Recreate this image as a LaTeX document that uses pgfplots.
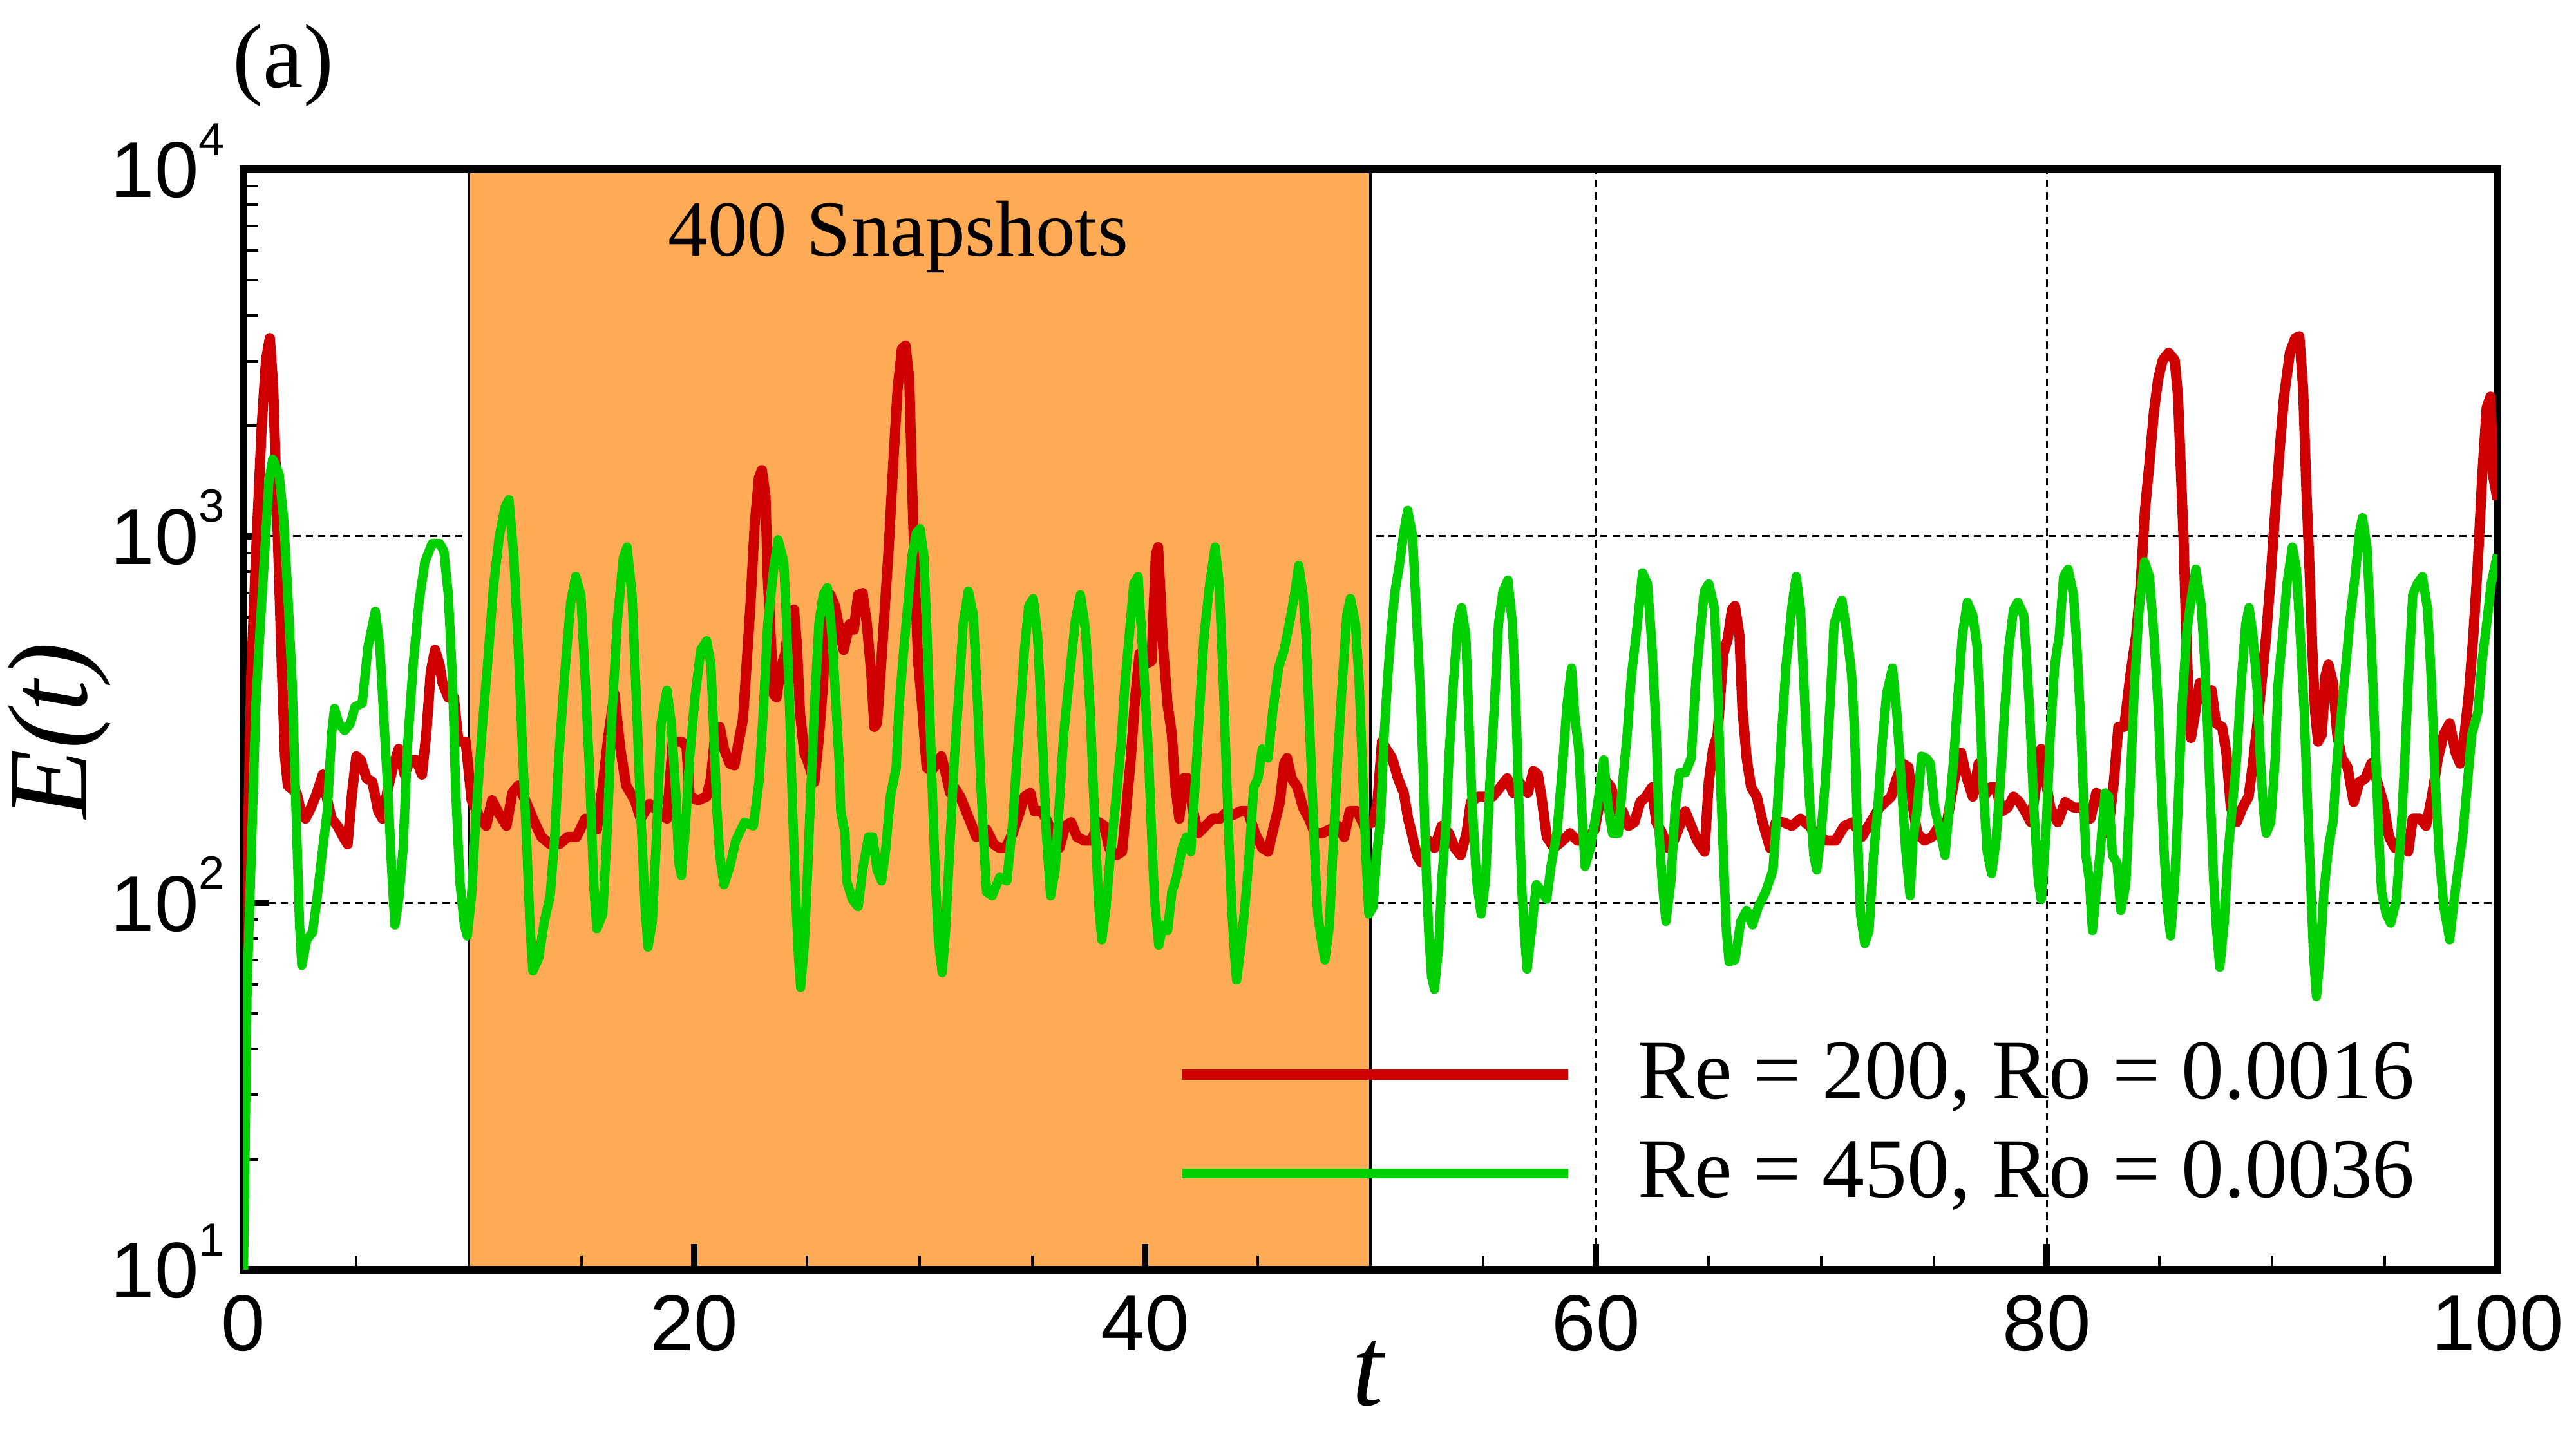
\documentclass[border=0pt]{standalone}
\usepackage{fontspec}
\setmainfont{Liberation Serif}
\setsansfont{Liberation Sans}
\usepackage{pgfplots}
\usepackage{pgfplotstable}
\pgfplotsset{compat=1.18}

\definecolor{snapfill}{RGB}{255,170,85}
\definecolor{curvered}{RGB}{208,0,0}
\definecolor{curvegreen}{RGB}{0,208,0}

% power-of-ten tick label set in the sans text font
\newcommand{\tenpow}[1]{10\raisebox{7.5pt}{\fontsize{8.2}{9}\selectfont #1}}

% grid below the shaded band, ticks and axis lines above it
\pgfplotsset{
  layers/band layers/.define layer set={
    axis background,axis grid,pre main,axis ticks,axis lines,main,axis tick labels,axis descriptions,axis foreground
  }{
    grid style={/pgfplots/on layer=axis grid},
    tick style={/pgfplots/on layer=axis ticks},
    axis line style={/pgfplots/on layer=axis lines},
    label style={/pgfplots/on layer=axis descriptions},
    legend style={/pgfplots/on layer=axis descriptions},
    title style={/pgfplots/on layer=axis descriptions},
    ticklabel style={/pgfplots/on layer=axis tick labels},
  },
}

% columns: time t, log10 of the energy E(t)
\pgfplotstableread[row sep=\\]{
t lg \\
0.00 1.20 \\ 0.06 1.60 \\ 0.15 2.00 \\ 0.29 2.45 \\ 0.35 2.63 \\ 0.55 2.94 \\ 0.81 3.30 \\ 1.00 3.48 \\ 1.17 3.54 \\
1.32 3.41 \\ 1.45 3.15 \\ 1.58 2.89 \\ 1.71 2.63 \\ 1.84 2.40 \\ 1.97 2.32 \\ 2.36 2.30 \\ 2.55 2.25 \\ 2.75 2.23 \\
3.00 2.26 \\ 3.26 2.30 \\ 3.52 2.35 \\ 3.65 2.30 \\ 3.91 2.23 \\ 4.17 2.21 \\ 4.43 2.18 \\ 4.62 2.16 \\ 4.82 2.30 \\
5.01 2.40 \\ 5.20 2.39 \\ 5.46 2.34 \\ 5.72 2.33 \\ 5.98 2.25 \\ 6.17 2.23 \\ 6.37 2.30 \\ 6.63 2.37 \\ 6.89 2.42 \\
7.15 2.35 \\ 7.40 2.39 \\ 7.66 2.39 \\ 7.92 2.35 \\ 8.11 2.46 \\ 8.31 2.63 \\ 8.50 2.69 \\ 8.70 2.65 \\ 8.83 2.60 \\
9.09 2.56 \\ 9.34 2.56 \\ 9.54 2.44 \\ 9.86 2.44 \\ 10.12 2.28 \\ 10.51 2.23 \\ 10.77 2.21 \\ 11.03 2.28 \\ 11.28 2.25 \\
11.67 2.21 \\ 11.93 2.30 \\ 12.19 2.32 \\ 12.58 2.27 \\ 12.84 2.23 \\ 13.22 2.18 \\ 13.61 2.16 \\ 14.00 2.16 \\ 14.39 2.18 \\
14.78 2.18 \\ 15.17 2.23 \\ 15.68 2.20 \\ 15.94 2.32 \\ 16.20 2.46 \\ 16.46 2.57 \\ 16.72 2.42 \\ 16.98 2.32 \\ 17.36 2.28 \\
17.62 2.23 \\ 18.01 2.27 \\ 18.40 2.25 \\ 18.79 2.23 \\ 19.05 2.44 \\ 19.43 2.44 \\ 19.65 2.43 \\ 19.80 2.29 \\ 20.16 2.28 \\
20.55 2.29 \\ 20.74 2.34 \\ 20.93 2.46 \\ 21.13 2.48 \\ 21.32 2.42 \\ 21.58 2.38 \\ 21.78 2.375 \\ 21.97 2.44 \\ 22.16 2.50 \\
22.29 2.62 \\ 22.49 2.81 \\ 22.68 3.03 \\ 22.87 3.16 \\ 23.00 3.18 \\ 23.16 3.11 \\ 23.26 2.89 \\ 23.39 2.73 \\ 23.52 2.57 \\
23.65 2.56 \\ 23.84 2.64 \\ 24.04 2.68 \\ 24.23 2.79 \\ 24.43 2.80 \\ 24.56 2.70 \\ 24.69 2.52 \\ 24.88 2.41 \\ 25.07 2.38 \\
25.33 2.33 \\ 25.53 2.45 \\ 25.72 2.60 \\ 25.85 2.79 \\ 26.04 2.84 \\ 26.24 2.81 \\ 26.43 2.75 \\ 26.63 2.69 \\ 26.89 2.76 \\
27.08 2.745 \\ 27.27 2.84 \\ 27.47 2.845 \\ 27.66 2.76 \\ 27.86 2.62 \\ 27.99 2.48 \\ 28.11 2.49 \\ 28.24 2.60 \\ 28.44 2.79 \\
28.63 2.97 \\ 28.83 3.20 \\ 29.02 3.40 \\ 29.21 3.51 \\ 29.37 3.52 \\ 29.54 3.43 \\ 29.67 3.13 \\ 29.80 2.87 \\ 29.93 2.66 \\
30.12 2.53 \\ 30.31 2.37 \\ 30.51 2.36 \\ 30.77 2.38 \\ 30.96 2.40 \\ 31.15 2.355 \\ 31.35 2.30 \\ 31.54 2.315 \\ 31.80 2.29 \\
32.06 2.25 \\ 32.32 2.21 \\ 32.51 2.18 \\ 32.71 2.19 \\ 32.97 2.20 \\ 33.29 2.16 \\ 33.55 2.15 \\ 33.81 2.15 \\ 34.13 2.19 \\
34.45 2.25 \\ 34.65 2.29 \\ 34.91 2.30 \\ 35.10 2.25 \\ 35.42 2.25 \\ 35.68 2.22 \\ 35.94 2.18 \\ 36.20 2.15 \\ 36.46 2.21 \\
36.72 2.22 \\ 36.98 2.18 \\ 37.30 2.17 \\ 37.62 2.17 \\ 37.95 2.22 \\ 38.20 2.21 \\ 38.40 2.15 \\ 38.72 2.13 \\ 38.98 2.14 \\
39.17 2.26 \\ 39.37 2.395 \\ 39.56 2.56 \\ 39.76 2.68 \\ 40.00 2.65 \\ 40.29 2.66 \\ 40.48 2.95 \\ 40.58 2.97 \\ 40.80 2.70 \\
41.00 2.54 \\ 41.19 2.46 \\ 41.32 2.33 \\ 41.52 2.23 \\ 41.71 2.34 \\ 41.90 2.34 \\ 42.10 2.26 \\ 42.36 2.19 \\ 42.68 2.21 \\
43.00 2.23 \\ 43.33 2.23 \\ 43.65 2.25 \\ 43.91 2.24 \\ 44.23 2.25 \\ 44.56 2.25 \\ 44.88 2.19 \\ 45.20 2.15 \\ 45.46 2.14 \\
45.72 2.21 \\ 45.98 2.275 \\ 46.17 2.38 \\ 46.30 2.395 \\ 46.50 2.34 \\ 46.76 2.315 \\ 47.01 2.26 \\ 47.27 2.23 \\ 47.53 2.19 \\
47.86 2.19 \\ 48.18 2.20 \\ 48.57 2.21 \\ 48.83 2.18 \\ 49.08 2.25 \\ 49.41 2.25 \\ 49.73 2.21 \\ 50.12 2.22 \\ 50.31 2.275 \\
50.51 2.44 \\ 50.70 2.42 \\ 50.96 2.395 \\ 51.22 2.34 \\ 51.48 2.30 \\ 51.67 2.23 \\ 51.87 2.18 \\ 52.06 2.13 \\ 52.25 2.11 \\
52.58 2.17 \\ 52.84 2.15 \\ 53.16 2.21 \\ 53.48 2.19 \\ 53.74 2.15 \\ 54.00 2.13 \\ 54.26 2.19 \\ 54.45 2.275 \\ 54.78 2.29 \\
55.10 2.29 \\ 55.42 2.29 \\ 55.75 2.315 \\ 56.07 2.34 \\ 56.33 2.30 \\ 56.59 2.33 \\ 56.98 2.30 \\ 57.23 2.36 \\ 57.43 2.35 \\
57.62 2.275 \\ 57.82 2.18 \\ 58.14 2.15 \\ 58.53 2.17 \\ 58.85 2.19 \\ 59.18 2.17 \\ 59.56 2.17 \\ 59.95 2.20 \\ 60.29 2.315 \\
60.48 2.33 \\ 60.68 2.315 \\ 60.93 2.25 \\ 61.19 2.25 \\ 61.45 2.21 \\ 61.71 2.22 \\ 61.97 2.275 \\ 62.23 2.29 \\ 62.49 2.315 \\
62.68 2.22 \\ 62.94 2.19 \\ 63.20 2.15 \\ 63.46 2.17 \\ 63.72 2.21 \\ 63.97 2.25 \\ 64.23 2.21 \\ 64.49 2.17 \\ 64.82 2.14 \\
65.01 2.33 \\ 65.20 2.42 \\ 65.40 2.46 \\ 65.66 2.68 \\ 65.85 2.72 \\ 66.04 2.80 \\ 66.17 2.81 \\ 66.37 2.73 \\ 66.50 2.53 \\
66.69 2.395 \\ 66.89 2.315 \\ 67.14 2.29 \\ 67.40 2.22 \\ 67.73 2.15 \\ 67.98 2.22 \\ 68.31 2.22 \\ 68.70 2.21 \\ 69.08 2.23 \\
69.47 2.21 \\ 69.86 2.18 \\ 70.25 2.17 \\ 70.64 2.17 \\ 71.02 2.21 \\ 71.41 2.22 \\ 71.80 2.18 \\ 72.19 2.22 \\ 72.58 2.26 \\
72.84 2.275 \\ 73.10 2.29 \\ 73.35 2.34 \\ 73.61 2.38 \\ 73.87 2.37 \\ 74.07 2.26 \\ 74.26 2.19 \\ 74.58 2.17 \\ 74.91 2.18 \\
75.23 2.21 \\ 75.55 2.21 \\ 75.88 2.33 \\ 76.20 2.41 \\ 76.46 2.34 \\ 76.72 2.29 \\ 76.98 2.38 \\ 77.23 2.29 \\ 77.49 2.315 \\
77.75 2.315 \\ 78.01 2.25 \\ 78.27 2.26 \\ 78.53 2.29 \\ 78.79 2.275 \\ 79.04 2.25 \\ 79.30 2.22 \\ 79.56 2.33 \\ 79.76 2.42 \\
79.97 2.33 \\ 80.16 2.26 \\ 80.49 2.22 \\ 80.82 2.275 \\ 81.21 2.26 \\ 81.61 2.26 \\ 81.94 2.23 \\ 82.20 2.30 \\ 82.46 2.29 \\
82.72 2.19 \\ 82.98 2.33 \\ 83.18 2.48 \\ 83.44 2.48 \\ 83.71 2.62 \\ 83.97 2.73 \\ 84.17 2.87 \\ 84.36 3.07 \\ 84.56 3.20 \\
84.76 3.34 \\ 84.95 3.43 \\ 85.15 3.48 \\ 85.41 3.50 \\ 85.68 3.48 \\ 85.83 3.38 \\ 85.94 3.20 \\ 86.07 3.00 \\ 86.16 2.80 \\
86.27 2.60 \\ 86.40 2.45 \\ 86.59 2.52 \\ 86.79 2.60 \\ 87.05 2.57 \\ 87.32 2.58 \\ 87.51 2.49 \\ 87.78 2.48 \\ 87.97 2.41 \\
88.17 2.26 \\ 88.43 2.22 \\ 88.69 2.26 \\ 88.96 2.29 \\ 89.15 2.38 \\ 89.35 2.49 \\ 89.55 2.61 \\ 89.74 2.73 \\ 89.94 2.89 \\
90.14 3.07 \\ 90.33 3.23 \\ 90.53 3.38 \\ 90.79 3.50 \\ 91.03 3.54 \\ 91.21 3.545 \\ 91.38 3.40 \\ 91.52 3.13 \\ 91.65 2.93 \\
91.78 2.70 \\ 91.91 2.52 \\ 92.04 2.44 \\ 92.21 2.46 \\ 92.37 2.62 \\ 92.50 2.65 \\ 92.70 2.60 \\ 92.89 2.46 \\ 93.09 2.395 \\
93.35 2.37 \\ 93.62 2.275 \\ 93.88 2.33 \\ 94.14 2.34 \\ 94.40 2.38 \\ 94.67 2.33 \\ 94.93 2.275 \\ 95.19 2.18 \\ 95.45 2.15 \\
95.72 2.17 \\ 96.04 2.14 \\ 96.24 2.23 \\ 96.57 2.23 \\ 96.83 2.21 \\ 97.09 2.29 \\ 97.36 2.395 \\ 97.62 2.46 \\ 97.88 2.49 \\
98.14 2.41 \\ 98.34 2.38 \\ 98.54 2.46 \\ 98.73 2.57 \\ 98.93 2.73 \\ 99.13 2.93 \\ 99.32 3.16 \\ 99.52 3.35 \\ 99.69 3.38 \\
99.82 3.16 \\ 100.00 3.10 \\
}\lowRe

\pgfplotstableread[row sep=\\]{
t lg \\
0.00 1.00 \\ 0.09 1.41 \\ 0.16 1.76 \\ 0.29 2.02 \\ 0.42 2.28 \\ 0.55 2.54 \\ 0.74 2.75 \\ 0.93 2.94 \\ 1.13 3.15 \\
1.30 3.21 \\ 1.58 3.17 \\ 1.78 3.05 \\ 1.97 2.84 \\ 2.16 2.60 \\ 2.36 2.20 \\ 2.49 1.94 \\ 2.59 1.83 \\ 2.81 1.90 \\
3.07 1.92 \\ 3.26 2.01 \\ 3.52 2.15 \\ 3.72 2.25 \\ 3.91 2.46 \\ 4.04 2.53 \\ 4.23 2.49 \\ 4.49 2.47 \\ 4.75 2.49 \\
4.95 2.535 \\ 5.27 2.545 \\ 5.53 2.70 \\ 5.85 2.795 \\ 6.05 2.70 \\ 6.24 2.49 \\ 6.43 2.28 \\ 6.59 2.075 \\ 6.72 1.94 \\
6.89 2.01 \\ 7.08 2.145 \\ 7.27 2.42 \\ 7.53 2.65 \\ 7.79 2.82 \\ 8.05 2.93 \\ 8.37 2.98 \\ 8.70 2.98 \\ 8.89 2.96 \\
9.09 2.84 \\ 9.28 2.60 \\ 9.41 2.32 \\ 9.60 2.06 \\ 9.80 1.94 \\ 9.93 1.91 \\ 10.12 2.02 \\ 10.31 2.23 \\ 10.57 2.46 \\
10.83 2.65 \\ 11.09 2.86 \\ 11.35 3.00 \\ 11.61 3.08 \\ 11.78 3.10 \\ 12.00 2.94 \\ 12.19 2.70 \\ 12.38 2.42 \\ 12.58 2.145 \\
12.71 1.94 \\ 12.84 1.815 \\ 13.10 1.85 \\ 13.35 1.95 \\ 13.61 2.02 \\ 13.81 2.18 \\ 14.00 2.405 \\ 14.26 2.63 \\ 14.52 2.82 \\
14.74 2.89 \\ 14.97 2.84 \\ 15.17 2.60 \\ 15.36 2.35 \\ 15.55 2.04 \\ 15.68 1.93 \\ 15.94 1.97 \\ 16.14 2.20 \\ 16.33 2.49 \\
16.59 2.77 \\ 16.85 2.94 \\ 17.02 2.97 \\ 17.24 2.84 \\ 17.43 2.56 \\ 17.62 2.25 \\ 17.82 1.99 \\ 17.95 1.88 \\ 18.14 1.95 \\
18.34 2.20 \\ 18.53 2.49 \\ 18.79 2.58 \\ 18.98 2.49 \\ 19.18 2.30 \\ 19.31 2.11 \\ 19.43 2.075 \\ 19.60 2.20 \\ 19.80 2.40 \\
20.03 2.56 \\ 20.29 2.69 \\ 20.55 2.715 \\ 20.74 2.65 \\ 20.87 2.46 \\ 21.00 2.26 \\ 21.13 2.13 \\ 21.32 2.05 \\ 21.58 2.10 \\
21.84 2.17 \\ 22.23 2.22 \\ 22.62 2.21 \\ 22.87 2.33 \\ 23.07 2.53 \\ 23.26 2.76 \\ 23.52 2.91 \\ 23.72 2.99 \\ 23.97 2.93 \\
24.10 2.76 \\ 24.23 2.53 \\ 24.36 2.26 \\ 24.49 2.03 \\ 24.62 1.86 \\ 24.72 1.77 \\ 24.88 1.885 \\ 25.01 2.06 \\ 25.14 2.26 \\
25.33 2.53 \\ 25.53 2.76 \\ 25.72 2.84 \\ 25.91 2.86 \\ 26.11 2.73 \\ 26.30 2.53 \\ 26.43 2.38 \\ 26.50 2.25 \\ 26.69 2.19 \\
26.76 2.06 \\ 27.01 2.01 \\ 27.27 1.99 \\ 27.47 2.09 \\ 27.73 2.18 \\ 27.92 2.18 \\ 28.11 2.09 \\ 28.31 2.06 \\ 28.50 2.15 \\
28.70 2.29 \\ 28.96 2.37 \\ 29.08 2.53 \\ 29.28 2.68 \\ 29.47 2.81 \\ 29.67 2.95 \\ 29.86 3.01 \\ 30.02 3.02 \\ 30.18 2.95 \\
30.31 2.76 \\ 30.44 2.53 \\ 30.57 2.29 \\ 30.70 2.06 \\ 30.83 1.90 \\ 31.00 1.81 \\ 31.15 1.925 \\ 31.35 2.17 \\ 31.54 2.395 \\
31.74 2.57 \\ 31.93 2.76 \\ 32.16 2.85 \\ 32.38 2.785 \\ 32.58 2.53 \\ 32.71 2.33 \\ 32.84 2.17 \\ 32.97 2.03 \\ 33.22 2.02 \\
33.55 2.07 \\ 33.87 2.06 \\ 34.13 2.22 \\ 34.39 2.46 \\ 34.65 2.69 \\ 34.84 2.81 \\ 35.04 2.83 \\ 35.23 2.73 \\ 35.42 2.49 \\
35.62 2.19 \\ 35.81 2.02 \\ 36.01 2.09 \\ 36.20 2.275 \\ 36.39 2.46 \\ 36.65 2.62 \\ 36.91 2.77 \\ 37.13 2.84 \\ 37.36 2.745 \\
37.56 2.53 \\ 37.75 2.25 \\ 37.95 1.99 \\ 38.08 1.90 \\ 38.27 1.99 \\ 38.46 2.13 \\ 38.72 2.29 \\ 38.92 2.42 \\ 39.11 2.60 \\
39.30 2.73 \\ 39.50 2.87 \\ 39.69 2.89 \\ 39.96 2.62 \\ 40.16 2.395 \\ 40.29 2.19 \\ 40.42 2.01 \\ 40.61 1.885 \\ 40.80 1.94 \\
41.00 1.925 \\ 41.19 2.03 \\ 41.39 2.07 \\ 41.65 2.15 \\ 41.84 2.18 \\ 42.03 2.14 \\ 42.23 2.33 \\ 42.42 2.53 \\ 42.62 2.73 \\
42.87 2.87 \\ 43.11 2.97 \\ 43.29 2.87 \\ 43.46 2.62 \\ 43.59 2.395 \\ 43.72 2.17 \\ 43.85 1.98 \\ 43.97 1.86 \\ 44.06 1.79 \\
44.23 1.87 \\ 44.43 1.99 \\ 44.62 2.13 \\ 44.82 2.315 \\ 45.01 2.34 \\ 45.20 2.42 \\ 45.46 2.395 \\ 45.66 2.52 \\ 45.92 2.64 \\
46.17 2.69 \\ 46.43 2.77 \\ 46.63 2.84 \\ 46.82 2.92 \\ 47.01 2.84 \\ 47.14 2.73 \\ 47.27 2.53 \\ 47.40 2.33 \\ 47.53 2.13 \\
47.66 1.97 \\ 47.82 1.90 \\ 47.98 1.845 \\ 48.18 1.94 \\ 48.37 2.19 \\ 48.57 2.42 \\ 48.76 2.61 \\ 48.95 2.785 \\ 49.11 2.83 \\
49.34 2.76 \\ 49.50 2.60 \\ 49.67 2.33 \\ 49.80 2.13 \\ 49.93 1.97 \\ 50.12 1.99 \\ 50.27 2.13 \\ 50.44 2.22 \\ 50.61 2.46 \\
50.77 2.62 \\ 50.92 2.745 \\ 51.09 2.85 \\ 51.28 2.92 \\ 51.48 3.01 \\ 51.65 3.07 \\ 51.87 3.00 \\ 52.03 2.80 \\ 52.19 2.60 \\
52.32 2.395 \\ 52.45 2.13 \\ 52.58 1.925 \\ 52.71 1.80 \\ 52.84 1.765 \\ 53.03 1.885 \\ 53.16 2.06 \\ 53.35 2.21 \\ 53.48 2.395 \\
53.68 2.60 \\ 53.87 2.76 \\ 54.04 2.805 \\ 54.23 2.73 \\ 54.39 2.46 \\ 54.52 2.26 \\ 54.71 2.06 \\ 54.91 1.97 \\ 55.10 2.06 \\
55.30 2.33 \\ 55.49 2.53 \\ 55.68 2.76 \\ 55.88 2.85 \\ 56.10 2.88 \\ 56.30 2.76 \\ 56.46 2.53 \\ 56.59 2.26 \\ 56.72 2.03 \\
56.85 1.90 \\ 56.95 1.82 \\ 57.17 1.94 \\ 57.36 2.05 \\ 57.62 2.03 \\ 57.82 2.01 \\ 58.01 2.10 \\ 58.27 2.19 \\ 58.53 2.38 \\
58.72 2.54 \\ 58.92 2.64 \\ 59.08 2.50 \\ 59.24 2.42 \\ 59.37 2.26 \\ 59.52 2.10 \\ 59.76 2.15 \\ 60.03 2.25 \\ 60.22 2.33 \\
60.35 2.39 \\ 60.55 2.26 \\ 60.74 2.19 \\ 61.00 2.19 \\ 61.19 2.33 \\ 61.39 2.46 \\ 61.58 2.62 \\ 61.84 2.76 \\ 62.07 2.90 \\
62.29 2.87 \\ 62.49 2.70 \\ 62.68 2.46 \\ 62.81 2.19 \\ 62.94 2.06 \\ 63.11 1.95 \\ 63.33 2.06 \\ 63.52 2.26 \\ 63.72 2.355 \\
63.97 2.355 \\ 64.23 2.395 \\ 64.43 2.60 \\ 64.62 2.73 \\ 64.81 2.85 \\ 65.01 2.87 \\ 65.27 2.80 \\ 65.40 2.60 \\ 65.53 2.33 \\
65.66 2.13 \\ 65.79 1.925 \\ 65.91 1.84 \\ 66.17 1.845 \\ 66.43 1.95 \\ 66.69 1.98 \\ 66.95 1.94 \\ 67.21 1.99 \\ 67.53 2.03 \\
67.86 2.09 \\ 68.05 2.26 \\ 68.24 2.46 \\ 68.44 2.65 \\ 68.70 2.81 \\ 68.89 2.89 \\ 69.08 2.80 \\ 69.28 2.53 \\ 69.47 2.29 \\
69.67 2.13 \\ 69.80 2.09 \\ 69.99 2.19 \\ 70.18 2.33 \\ 70.38 2.53 \\ 70.57 2.76 \\ 70.77 2.80 \\ 70.92 2.825 \\ 71.15 2.73 \\
71.35 2.62 \\ 71.48 2.46 \\ 71.61 2.19 \\ 71.74 1.97 \\ 71.93 1.89 \\ 72.12 1.925 \\ 72.32 2.13 \\ 72.51 2.26 \\ 72.71 2.44 \\
72.90 2.57 \\ 73.16 2.64 \\ 73.35 2.52 \\ 73.55 2.33 \\ 73.74 2.15 \\ 73.94 2.02 \\ 74.07 2.17 \\ 74.26 2.26 \\ 74.45 2.40 \\
74.65 2.395 \\ 74.84 2.38 \\ 75.03 2.26 \\ 75.29 2.19 \\ 75.49 2.13 \\ 75.68 2.26 \\ 75.88 2.395 \\ 76.07 2.57 \\ 76.26 2.73 \\
76.48 2.82 \\ 76.72 2.785 \\ 76.91 2.70 \\ 77.04 2.53 \\ 77.17 2.33 \\ 77.36 2.14 \\ 77.56 2.08 \\ 77.75 2.17 \\ 77.95 2.33 \\
78.14 2.53 \\ 78.33 2.70 \\ 78.53 2.80 \\ 78.72 2.82 \\ 78.98 2.785 \\ 79.11 2.66 \\ 79.24 2.53 \\ 79.43 2.26 \\ 79.63 2.06 \\
79.76 2.01 \\ 79.97 2.19 \\ 80.16 2.46 \\ 80.36 2.65 \\ 80.56 2.73 \\ 80.75 2.89 \\ 80.95 2.91 \\ 81.19 2.84 \\ 81.34 2.70 \\
81.48 2.53 \\ 81.61 2.33 \\ 81.74 2.13 \\ 81.90 2.06 \\ 82.03 1.925 \\ 82.20 2.03 \\ 82.39 2.15 \\ 82.59 2.30 \\ 82.76 2.29 \\
82.92 2.13 \\ 83.12 2.11 \\ 83.29 1.98 \\ 83.51 2.05 \\ 83.71 2.33 \\ 83.90 2.60 \\ 84.10 2.80 \\ 84.34 2.93 \\ 84.56 2.89 \\
84.76 2.73 \\ 84.95 2.53 \\ 85.08 2.33 \\ 85.22 2.13 \\ 85.35 1.99 \\ 85.50 1.91 \\ 85.68 2.06 \\ 85.83 2.26 \\ 86.00 2.53 \\
86.20 2.73 \\ 86.40 2.825 \\ 86.62 2.91 \\ 86.86 2.81 \\ 87.01 2.66 \\ 87.15 2.46 \\ 87.28 2.26 \\ 87.41 2.06 \\ 87.54 1.925 \\
87.68 1.825 \\ 87.88 1.95 \\ 88.04 2.13 \\ 88.23 2.26 \\ 88.43 2.395 \\ 88.63 2.60 \\ 88.83 2.76 \\ 88.98 2.805 \\ 89.15 2.73 \\
89.35 2.57 \\ 89.48 2.395 \\ 89.61 2.26 \\ 89.74 2.19 \\ 89.94 2.22 \\ 90.14 2.395 \\ 90.27 2.60 \\ 90.47 2.73 \\ 90.66 2.87 \\
90.90 2.97 \\ 91.08 2.91 \\ 91.25 2.73 \\ 91.42 2.53 \\ 91.58 2.26 \\ 91.71 2.06 \\ 91.84 1.86 \\ 91.97 1.745 \\ 92.13 1.86 \\
92.30 2.03 \\ 92.50 2.15 \\ 92.70 2.22 \\ 92.89 2.395 \\ 93.09 2.53 \\ 93.29 2.66 \\ 93.48 2.785 \\ 93.68 2.89 \\ 93.88 3.01 \\
94.01 3.05 \\ 94.21 2.97 \\ 94.34 2.80 \\ 94.47 2.60 \\ 94.60 2.395 \\ 94.73 2.19 \\ 94.86 2.03 \\ 95.06 1.97 \\ 95.26 1.945 \\
95.52 2.01 \\ 95.72 2.19 \\ 95.89 2.395 \\ 96.04 2.60 \\ 96.24 2.84 \\ 96.44 2.87 \\ 96.67 2.89 \\ 96.90 2.80 \\ 97.07 2.60 \\
97.22 2.355 \\ 97.42 2.13 \\ 97.62 1.99 \\ 97.88 1.90 \\ 98.08 2.01 \\ 98.27 2.10 \\ 98.47 2.19 \\ 98.67 2.33 \\ 98.86 2.46 \\
99.13 2.52 \\ 99.32 2.66 \\ 99.52 2.76 \\ 99.72 2.87 \\ 100.00 2.95 \\
}\highRe

\begin{document}
\begin{tikzpicture}
\begin{axis}[
  set layers=band layers,
  scale only axis, width=14cm, height=6.836cm,
  xmin=0, xmax=100, ymin=10, ymax=10000, ymode=log,
  xtick={0,20,40,60,80,100}, xticklabels={0,20,40,60,80,100},
  minor x tick num=3,
  ytick={10,100,1000,10000},
  yticklabels={\tenpow{1},\tenpow{2},\tenpow{3},\tenpow{4}},
  minor ytick={20,30,40,50,60,70,80,90,200,300,400,500,600,700,800,900,2000,3000,4000,5000,6000,7000,8000,9000},
  tick pos=left, tick align=inside,
  major tick length=0.16cm, minor tick length=0.09cm,
  every major tick/.append style={line width=1.1pt,black},
  every minor tick/.append style={line width=0.45pt,black},
  axis line style={line width=1.4pt},
  grid=major,
  major grid style={black, line width=0.35pt, dash pattern=on 1.3pt off 0.9pt},
  xticklabel style={font=\sffamily\fontsize{14}{14}\selectfont, inner sep=0pt, anchor=north, yshift=-0.152cm},
  yticklabel style={font=\sffamily\fontsize{14}{14}\selectfont, inner sep=0pt, anchor=base east, xshift=-0.11cm, yshift=-5pt},
  xlabel={\textit{t}}, ylabel={\textit{E(t)}},
  xlabel style={font=\fontsize{20}{20}\selectfont, inner sep=0pt, at={(axis description cs:0.4993,-0.0948)}, anchor=center},
  ylabel style={font=\fontsize{20}{20}\selectfont, inner sep=0pt, at={(axis description cs:-0.0817,0.49)}, anchor=center},
  legend image code/.code={\path (0cm,-0.066cm); \draw[#1] (0cm,0cm) -- (2.40cm,0cm);},
  legend cell align=left,
  legend style={draw=none, fill=none, inner sep=0pt, outer sep=0pt,
    at={(axis description cs:0.9634,0.0581)}, anchor=south east,
    font=\fontsize{15}{15}\selectfont,
    nodes={inner sep=0pt},
    row sep=0.209cm,
    /tikz/every odd column/.append style={column sep=0.40cm}},
  line join=round,
]
% 400-snapshot window
\addplot[fill=snapfill, draw=none, on layer=pre main, forget plot]
  coordinates {(10,10) (10,10000) (50,10000) (50,10) (10,10)};
\addplot[black, line width=0.5pt, on layer=pre main, forget plot] coordinates {(10,10) (10,10000)};
\addplot[black, line width=0.5pt, on layer=pre main, forget plot] coordinates {(50,10) (50,10000)};

\addplot[curvered, line width=1.8pt] table[x=t, y expr={10^(\thisrow{lg})}] {\lowRe};
\addlegendentry{Re = 200, Ro = 0.0016}
\addplot[curvegreen, line width=1.65pt] table[x=t, y expr={10^(\thisrow{lg})}] {\highRe};
\addlegendentry{Re = 450, Ro = 0.0036}

\node[anchor=base west, inner sep=0pt, font=\fontsize{14}{14}\selectfont]
  at (rel axis cs:0.188,0.9216) {400 Snapshots};
\end{axis}
% panel tag above the top-left corner of the axis box
\node[inner sep=0pt, font=\fontsize{16}{16}\selectfont] at (0.248,7.48) {(a)};
% fix the page to the full figure extent around the axis box
\pgfresetboundingbox
\useasboundingbox (-1.512,-1.004) rectangle (14.488,7.888);
\end{tikzpicture}
\end{document}
